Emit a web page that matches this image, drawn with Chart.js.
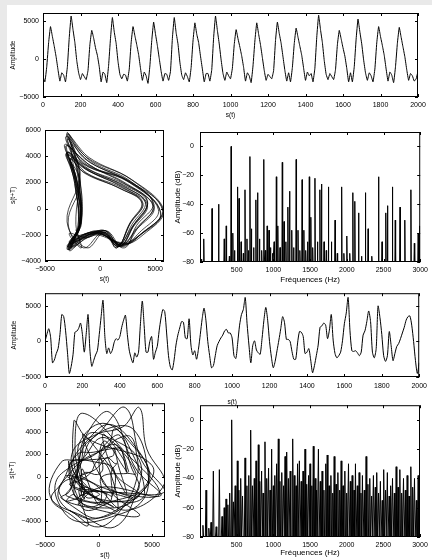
<!DOCTYPE html>
<html lang="fr">
<head>
<meta charset="UTF-8">
<title>Signal, portrait de phase et spectre</title>
<style>
  html, body { margin: 0; background: #fff; }
  body { width: 432px; height: 560px; position: relative; overflow: hidden; }
  .bord { position: absolute; background: #e9e9e9; }
  canvas { position: absolute; }
</style>
</head>
<body>
<div class="bord" style="left:0;top:0;width:432px;height:5px"></div>
<div class="bord" style="left:0;top:0;width:7px;height:560px"></div>
<canvas id="signal1" width="432" height="125" style="left:0;top:0"></canvas>
<canvas id="phase1" width="175" height="172" style="left:0;top:115px"></canvas>
<canvas id="spectre1" width="272" height="175" style="left:160px;top:115px"></canvas>
<canvas id="signal2" width="432" height="123" style="left:0;top:285px"></canvas>
<canvas id="phase2" width="175" height="165" style="left:0;top:395px"></canvas>
<canvas id="spectre2" width="272" height="165" style="left:160px;top:395px"></canvas>

<script src="https://cdn.jsdelivr.net/npm/chart.js"></script>
<script>
// signaux echantillonnes tous les 10 points (0 a 2000)
const pas = 10;
const signal1 = [
  -2300, -3000, -1000, 2200, 4300, 3000, 1700, 300, -1400, -2900,
  -1800, -2100, -3000, -1000, 2850, 5700, 3900, 2200, -200, -1800,
  -2700, -1900, -2300, -2700, -1500, 1900, 3800, 2800, 1500, 500,
  -1000, -3000, -1700, -2000, -3100, -800, 2750, 5500, 3600, 2100,
  -300, -2000, -2600, -2000, -2100, -2900, -1300, 2150, 4300, 3100,
  1900, 600, -1200, -2800, -1700, -2200, -3200, -900, 2450, 4900,
  3300, 1800, 100, -1600, -2900, -1900, -2000, -2800, -1600, 2750,
  5500, 3500, 2000, -400, -2100, -2700, -1800, -2300, -3000, -1100,
  2400, 4800, 3300, 2200, 400, -1300, -3000, -1900, -1900, -2900,
  -1400, 2850, 5700, 3800, 2000, -100, -1900, -2800, -1700, -2200,
  -2600, -1200, 1950, 3900, 2700, 1600, 400, -1100, -2900, -1800,
  -2200, -3100, -900, 2400, 4800, 3300, 1900, 200, -1500, -2800,
  -2000, -2300, -2600, -1500, 2450, 4900, 3400, 2100, 300, -1500,
  -2900, -1800, -3000, -1100, 2050, 4100, 2900, 1700, 500, -1200,
  -2800, -1700, -2200, -1900, -3000, -1200, 2900, 5800, 3900, 2200,
  -200, -2000, -2700, -1900, -2300, -2700, -1400, 1900, 3800, 2700,
  1500, 400, -1200, -3000, -1800, -3000, -1000, 2650, 5300, 3600,
  2000, -100, -1800, -2800, -1800, -2200, -3000, -1300, 2150, 4300,
  3000, 1800, 500, -1300, -2900, -1700, -2100, -3100, -1000, 2100,
  4200, 2900, 1600, 300, -1400, -2800, -1900, -2200, -2900, -2600,
  -1600
];
const signal2 = [
  0, 1000, 1800, 600, -3000, -2600, -1700, -1000, 1000, 3800,
  3500, 1500, -1500, -4500, -3500, -1800, 1300, 1450, 1850, 2600,
  1000, -1500, 1000, 3800, -1200, -3500, -2700, -1900, -1300, 1000,
  3500, 5800, 700, -1700, -900, -1700, -1200, -100, 400, 200,
  700, 2000, 3000, 3700, 1000, -1200, -2300, -3000, -1600, -2200,
  -1500, 2500, 5700, 2200, -1500, -1500, 0, 700, -2500, -1500,
  -700, 1500, 3300, 4500, 4200, 1200, -2000, -3600, -4000, -2600,
  -500, 900, 1900, 2800, 2700, 500, 400, 3200, -500, -1900,
  -1300, -2500, -1100, 1000, 3200, 4700, 3000, 0, -2000, -3700,
  -3400, -2000, -600, 0, 500, 900, 1500, 1700, 1200, 1200,
  500, -2000, -2400, -200, 2300, 3800, 4500, 6200, 2500, -500,
  -3000, -600, 100, -1200, -1600, -1800, 400, 3000, 4800, 3000,
  0, -2200, -3700, -2800, -1300, 200, 1800, 3500, 2700, 300,
  300, 0, -1400, -2500, -2500, -200, 1400, 1300, 700, -1700,
  -1500, -1000, -2600, -4400, -3400, -2000, -500, 2000, 2200, 2600,
  2300, 400, 1600, 3800, 200, -1700, -2300, -2000, -1500, 100,
  2500, 4000, 6200, 1500, -1300, -1400, -1300, -1600, -2000, -1500,
  900, 1500, 2800, 4300, 2800, -1500, -2300, -1000, 5000, 3400,
  1000, -2000, -2800, -2000, 1400, -600, -2700, -1700, -700, -300,
  400, 1200, 2000, 3000, 3500, 3600, 2300, 0, -2700, -4500,
  -3000
];
// retard T du portrait de phase, en nombre d'echantillons
const retard1 = 3;
const retard2 = 2;

// raies des spectres : frequence (Hz) et niveau (dB)
const raiesFreq1 = [20, 51, 164, 253, 330, 357, 400, 424, 447, 470, 510, 532, 560, 590, 613, 640, 660, 680, 700, 730,
  761, 784, 810, 840, 869, 890, 915, 940, 960, 990, 1010, 1040, 1060, 1090, 1121, 1145, 1170, 1197, 1220, 1250,
  1275, 1310, 1335, 1360, 1391, 1415, 1440, 1465, 1489, 1510, 1535, 1566, 1600, 1633, 1655, 1690, 1720, 1749, 1790, 1840,
  1870, 1930, 1960, 2000, 2040, 2082, 2109, 2160, 2200, 2253, 2290, 2340, 2432, 2480, 2531, 2554, 2621, 2660, 2725, 2790,
  2873, 2920, 2972, 2990];
const raiesDb1 = [-78, -64, -43, -40, -64, -55, -76, 0, -60, -72, -28, -36, -66, -74, -30, -64, -72, -7, -57, -70,
  -37, -32, -64, -72, -9, -72, -55, -58, -70, -74, -66, -21, -55, -70, -11, -52, -66, -42, -31, -58,
  -70, -9, -58, -72, -23, -58, -72, -66, -21, -49, -70, -22, -66, -30, -26, -66, -72, -28, -66, -51,
  -74, -28, -74, -62, -74, -32, -38, -46, -76, -32, -57, -76, -21, -66, -46, -41, -28, -51, -42, -51,
  -30, -67, -60, -55];
const raiesFreq2 = [40, 82, 120, 150, 182, 220, 264, 300, 330, 355, 380, 405, 432, 455, 480, 509, 530, 555, 580, 614,
  640, 665, 691, 715, 740, 764, 795, 815, 840, 860, 886, 910, 935, 955, 977, 1000, 1020, 1045, 1068, 1090,
  1115, 1140, 1160, 1182, 1205, 1230, 1264, 1285, 1310, 1330, 1355, 1380, 1405, 1432, 1455, 1480, 1500, 1525, 1545, 1570,
  1590, 1615, 1640, 1665, 1690, 1715, 1735, 1760, 1785, 1810, 1830, 1855, 1880, 1905, 1925, 1950, 1975, 2000, 2025, 2050,
  2075, 2100, 2120, 2145, 2170, 2195, 2215, 2240, 2265, 2290, 2315, 2340, 2365, 2390, 2410, 2435, 2460, 2485, 2505, 2530,
  2555, 2580, 2600, 2625, 2650, 2675, 2700, 2725, 2750, 2775, 2800, 2825, 2850, 2875, 2900, 2925, 2950, 2975, 2995];
const raiesDb2 = [-72, -48, -74, -70, -35, -73, -34, -66, -60, -54, -58, -50, 0, -56, -45, -28, -48, -40, -52, -26,
  -45, -38, -7, -45, -40, -28, -17, -42, -35, -50, -15, -40, -33, -48, -20, -45, -38, -30, -13, -42,
  -36, -45, -25, -22, -40, -35, -13, -38, -45, -30, -28, -42, -35, -20, -44, -38, -30, -45, -18, -40,
  -48, -20, -42, -35, -48, -30, -24, -45, -38, -50, -25, -44, -36, -48, -28, -45, -35, -50, -30, -42,
  -38, -48, -30, -45, -36, -50, -38, -48, -25, -44, -40, -52, -38, -46, -36, -50, -42, -55, -34, -48,
  -36, -52, -45, -40, -50, -32, -46, -34, -50, -40, -48, -38, -52, -32, -46, -40, -55, -38, -50];
const plancherDb = -80;

// graduations
const gradTemps = [0, 200, 400, 600, 800, 1000, 1200, 1400, 1600, 1800, 2000];
const gradAmpl = [-5000, 0, 5000];
const gradPhaseX = [-5000, 0, 5000];
const gradPhaseY = [-4000, -2000, 0, 2000, 4000, 6000];
const gradFreq = [500, 1000, 1500, 2000, 2500, 3000];
const gradDb = [-80, -60, -40, -20, 0];

const policeBase = "'Liberation Sans', Arial, Helvetica, sans-serif";

function police(taille) {
  return { family: policeBase, size: taille };
}

function echelle(min, max, graduations, titre, opts) {
  return {
    type: 'linear',
    min: min,
    max: max,
    grid: { display: false, drawTicks: false },
    border: { display: false },
    afterBuildTicks: s => { s.ticks = graduations.map(v => ({ value: v })); },
    afterFit: s => {
      if (s.isHorizontal()) s.height = opts.taille;
      else s.width = opts.taille;
    },
    ticks: {
      color: '#000',
      font: police(opts.policeGrad),
      padding: opts.ecart,
      autoSkip: false,
      maxRotation: 0,
      callback: v => String(v).replace('-', '\u2212')
    },
    title: {
      display: true,
      text: titre,
      color: '#000',
      font: police(opts.policeTitre),
      padding: { top: opts.marge, bottom: opts.marge }
    }
  };
}

// cadre noir et graduations vers l'interieur, sur les quatre cotes
const cadre = {
  id: 'cadre',
  afterDatasetsDraw(chart) {
    const { ctx, chartArea: a, scales: { x, y } } = chart;
    const l = 3;
    ctx.save();
    ctx.strokeStyle = '#000';
    ctx.lineWidth = 1;
    ctx.beginPath();
    x.ticks.forEach(t => {
      const px = Math.round(x.getPixelForValue(t.value)) + 0.5;
      ctx.moveTo(px, a.bottom); ctx.lineTo(px, a.bottom - l);
      ctx.moveTo(px, a.top); ctx.lineTo(px, a.top + l);
    });
    y.ticks.forEach(t => {
      const py = Math.round(y.getPixelForValue(t.value)) + 0.5;
      ctx.moveTo(a.left, py); ctx.lineTo(a.left + l, py);
      ctx.moveTo(a.right, py); ctx.lineTo(a.right - l, py);
    });
    ctx.stroke();
    ctx.strokeRect(a.left + 0.5, a.top + 0.5, a.right - a.left - 1, a.bottom - a.top - 1);
    ctx.restore();
  }
};

function graphique(id, points, largeurTrait, tension, echelleX, echelleY, marges) {
  return new Chart(document.getElementById(id), {
    type: 'scatter',
    data: {
      datasets: [{
        data: points,
        showLine: true,
        borderColor: '#000',
        borderWidth: largeurTrait,
        pointRadius: 0,
        tension: tension
      }]
    },
    options: {
      responsive: false,
      animation: false,
      layout: { padding: marges },
      plugins: { legend: { display: false }, tooltip: { enabled: false } },
      scales: { x: echelleX, y: echelleY }
    },
    plugins: [cadre]
  });
}

function serieTemporelle(signal) {
  return signal.map((v, i) => ({ x: i * pas, y: v }));
}

function portrait(signal, retard) {
  const pts = [];
  for (let i = 0; i + retard < signal.length; i++) {
    pts.push({ x: signal[i], y: signal[i + retard] });
  }
  return pts;
}

// chaque raie part du plancher, monte a son niveau et y redescend
function spectre(freqs, niveaux, demiLargeur) {
  const pts = [];
  freqs.forEach((f, i) => {
    pts.push({ x: f - demiLargeur, y: plancherDb });
    pts.push({ x: f, y: niveaux[i] });
    pts.push({ x: f + demiLargeur, y: plancherDb });
  });
  return pts;
}

const axeTemps = { taille: 28, policeGrad: 7, policeTitre: 6.5, ecart: 4, marge: 6 };
const axeAmpl = { taille: 43, policeGrad: 7, policeTitre: 6.5, ecart: 4, marge: 9 };

graphique('signal1', serieTemporelle(signal1), 1, 0.1,
  echelle(0, 2000, gradTemps, 's(t)', axeTemps),
  echelle(-5000, 6100, gradAmpl, 'Amplitude', axeAmpl),
  { top: 13, right: 14 });

graphique('phase1', portrait(signal1, retard1), 0.7, 0.4,
  echelle(-5000, 5800, gradPhaseX, 's(t)', { taille: 26, policeGrad: 7, policeTitre: 6.5, ecart: 4, marge: 4 }),
  echelle(-4000, 6000, gradPhaseY, 's(t+T)', { taille: 45, policeGrad: 7, policeTitre: 6.5, ecart: 4, marge: 9 }),
  { top: 15, right: 11 });

graphique('spectre1', spectre(raiesFreq1, raiesDb1, 5), 1, 0,
  echelle(0, 3000, gradFreq, 'Fréquences (Hz)', { taille: 28, policeGrad: 7, policeTitre: 8, ecart: 4, marge: 5 }),
  echelle(-80, 10, gradDb, 'Amplitude (dB)', { taille: 40, policeGrad: 7, policeTitre: 8, ecart: 6, marge: 13 }),
  { top: 17, right: 10 });

graphique('signal2', serieTemporelle(signal2), 1, 0.25,
  echelle(0, 2000, gradTemps, 's(t)', { taille: 31, policeGrad: 7, policeTitre: 6.5, ecart: 5, marge: 2 }),
  echelle(-5000, 6800, gradAmpl, 'Amplitude', { taille: 45, policeGrad: 7, policeTitre: 6.5, ecart: 4, marge: 10 }),
  { top: 7, right: 11 });

graphique('phase2', portrait(signal2, retard2), 0.85, 0.4,
  echelle(-5000, 6200, gradPhaseX, 's(t)', { taille: 23, policeGrad: 7, policeTitre: 6.5, ecart: 4, marge: 1 }),
  echelle(-5400, 6600, gradPhaseY, 's(t+T)', { taille: 45, policeGrad: 7, policeTitre: 6.5, ecart: 4, marge: 8 }),
  { top: 8, right: 10 });

graphique('spectre2', spectre(raiesFreq2, raiesDb2, 9), 1, 0,
  echelle(0, 3000, gradFreq, 'Fréquences (Hz)', { taille: 23, policeGrad: 7, policeTitre: 8, ecart: 4, marge: 2 }),
  echelle(-80, 10, gradDb, 'Amplitude (dB)', { taille: 40, policeGrad: 7, policeTitre: 8, ecart: 6, marge: 13 }),
  { top: 7, right: 12 });
</script>
</body>
</html>
